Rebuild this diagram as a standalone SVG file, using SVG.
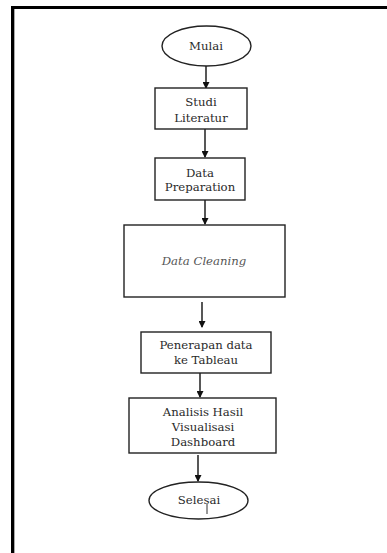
<svg xmlns="http://www.w3.org/2000/svg" width="387" height="553" viewBox="0 0 387 553">
<style>
.t{font-family:"DejaVu Serif","Liberation Serif",serif;font-size:11.7px;fill:#2a2a2a;text-anchor:middle}
.i{font-style:italic;fill:#555}
.b{fill:#fff;stroke:#222;stroke-width:1.4}
.c{stroke:#111;stroke-width:1.4;fill:none}
</style>
<defs>
<marker id="ah" markerWidth="7" markerHeight="7" refX="6" refY="3.5" orient="auto" markerUnits="userSpaceOnUse">
<path d="M0,0 L7,3.5 L0,7 Z" fill="#111"/>
</marker>
</defs>
<rect width="387" height="553" fill="#fff"/>
<g id="frame">
<rect x="11" y="6" width="376" height="3" fill="#000"/>
<rect x="11" y="6" width="3" height="547" fill="#000"/>
<rect x="14" y="9" width="1" height="544" fill="#aaa"/>
</g>
<g id="connectors">
<line class="c" x1="206" y1="66" x2="206" y2="88" marker-end="url(#ah)"/>
<line class="c" x1="205" y1="129" x2="205" y2="157" marker-end="url(#ah)"/>
<line class="c" x1="205" y1="200" x2="205" y2="224" marker-end="url(#ah)"/>
<line class="c" x1="202" y1="302" x2="202" y2="327" marker-end="url(#ah)"/>
<line class="c" x1="200" y1="373" x2="200" y2="397" marker-end="url(#ah)"/>
<line class="c" x1="198" y1="455" x2="198" y2="481" marker-end="url(#ah)"/>
</g>
<g id="mulai">
<ellipse class="b" cx="206.5" cy="46" rx="44.5" ry="20"/>
<text class="t" x="206" y="50">Mulai</text>
</g>
<g id="studi">
<rect class="b" x="155" y="88" width="92" height="41"/>
<text class="t" x="201" y="106">Studi</text>
<text class="t" x="201" y="122">Literatur</text>
</g>
<g id="prep">
<rect class="b" x="155" y="158" width="90" height="42"/>
<text class="t" x="200" y="177">Data</text>
<text class="t" x="200" y="191">Preparation</text>
</g>
<g id="cleaning">
<rect class="b" x="124" y="225" width="161" height="72"/>
<text class="t i" x="204" y="265">Data Cleaning</text>
</g>
<g id="tableau">
<rect class="b" x="141" y="332" width="130" height="41"/>
<text class="t" x="206" y="349">Penerapan data</text>
<text class="t" x="206" y="364">ke Tableau</text>
</g>
<g id="analisis">
<rect class="b" x="129" y="398" width="147" height="55"/>
<text class="t" x="203" y="416">Analisis Hasil</text>
<text class="t" x="203" y="431">Visualisasi</text>
<text class="t" x="203" y="446">Dashboard</text>
</g>
<g id="selesai">
<ellipse class="b" cx="198.5" cy="500.5" rx="49.5" ry="18.5"/>
<text class="t" x="199" y="504">Selesai</text>
<line x1="207" y1="504" x2="207" y2="514" stroke="#333" stroke-width="1"/>
</g>
</svg>
